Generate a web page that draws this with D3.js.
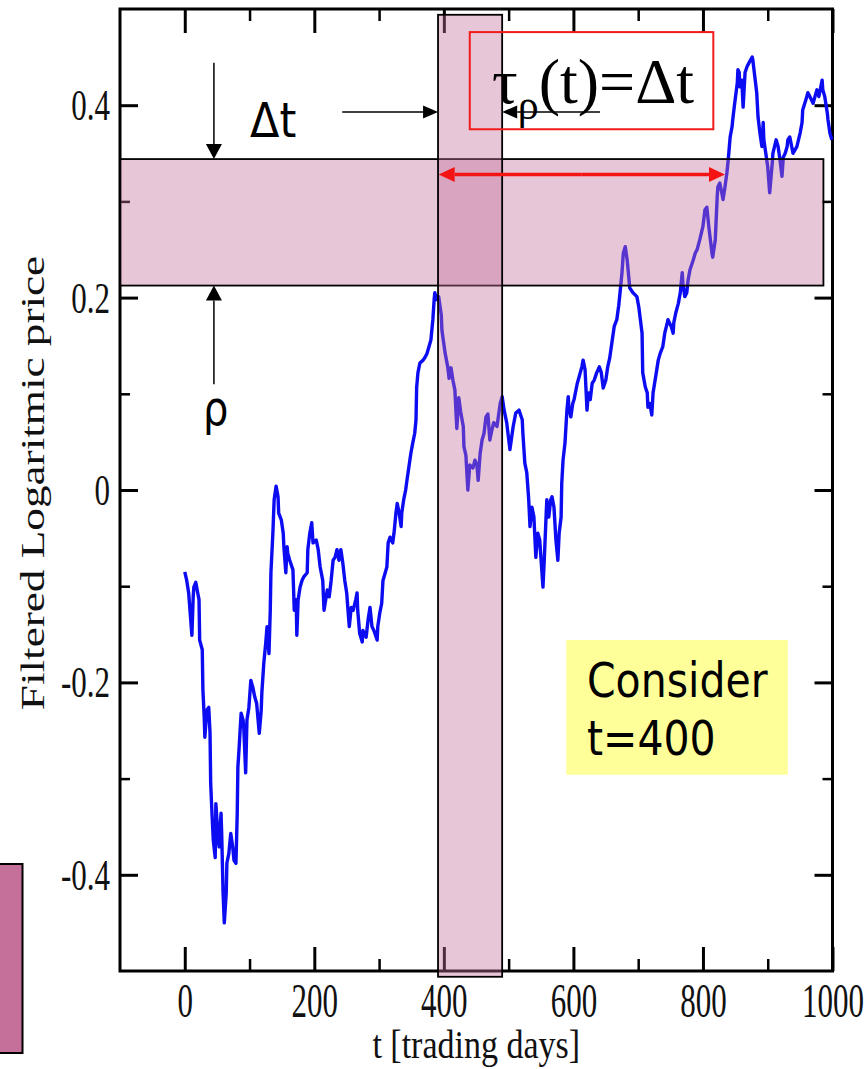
<!DOCTYPE html>
<html>
<head>
<meta charset="utf-8">
<script src="https://cdn.jsdelivr.net/npm/d3@7"></script>
<style>
  body { margin: 0; background: #fff; }
  svg { display: block; }
</style>
</head>
<body>
<svg id="chart" width="868" height="1069"></svg>
<script>
// ---- series: filtered logarithmic price vs trading day ----
const days = [0,3,6,11,13,14,17,20,22,23,27,28,30,31,34,37,39,40,42,44,47,48,51,53,56,57,59,61,64,65,68,71,74,76,79,81,82,84,87,90,91,94,96,99,102,105,108,111,115,118,119,122,125,127,130,132,133,136,138,141,144,145,149,152,153,156,158,159,162,167,169,172,173,175,178,181,184,189,190,193,196,198,203,206,209,213,215,220,223,226,229,232,235,238,241,244,247,250,252,254,257,260,264,266,267,270,274,275,280,283,286,289,292,297,298,301,304,306,312,314,317,321,323,326,328,331,334,335,338,341,343,346,349,352,355,357,358,360,363,368,371,374,377,380,383,385,386,389,392,396,397,402,406,408,411,414,417,420,423,426,430,431,434,437,440,445,448,451,453,456,459,462,465,468,471,474,477,482,487,490,493,497,502,507,511,516,521,522,525,528,531,533,536,539,542,545,548,553,555,558,559,562,565,567,570,573,576,578,581,582,584,587,590,592,593,596,599,601,606,609,613,615,618,621,623,626,629,632,636,640,643,646,650,653,656,660,663,667,670,672,675,677,680,683,684,687,692,698,701,706,707,711,714,715,718,721,723,728,731,734,738,741,745,746,751,754,755,758,762,765,768,769,772,775,777,780,785,788,791,795,800,803,806,809,814,815,819,822,823,826,829,831,834,837,839,842,845,846,849,853,854,856,857,860,862,865,868,871,876,877,880,883,885,888,891,893,894,897,900,903,907,908,913,916,919,922,924,927,930,931,934,937,939,945,950,953,954,959,962,965,970,973,976,979,984,985,988,992,993,996,999];

const filteredLogPrice = [-0.085,-0.094,-0.107,-0.151,-0.111,-0.101,-0.096,-0.107,-0.114,-0.156,-0.166,-0.208,-0.236,-0.257,-0.229,-0.226,-0.253,-0.305,-0.336,-0.364,-0.382,-0.326,-0.357,-0.371,-0.336,-0.357,-0.416,-0.450,-0.419,-0.388,-0.378,-0.357,-0.371,-0.385,-0.388,-0.336,-0.288,-0.267,-0.232,-0.239,-0.246,-0.294,-0.239,-0.226,-0.198,-0.205,-0.215,-0.222,-0.253,-0.229,-0.211,-0.180,-0.159,-0.142,-0.170,-0.125,-0.086,-0.045,-0.010,0.004,-0.007,-0.024,-0.031,-0.045,-0.059,-0.086,-0.059,-0.066,-0.073,-0.083,-0.125,-0.114,-0.151,-0.114,-0.101,-0.094,-0.090,-0.086,-0.062,-0.045,-0.034,-0.055,-0.052,-0.062,-0.080,-0.094,-0.125,-0.104,-0.111,-0.094,-0.073,-0.070,-0.062,-0.073,-0.062,-0.076,-0.094,-0.107,-0.125,-0.142,-0.122,-0.125,-0.114,-0.107,-0.125,-0.149,-0.158,-0.146,-0.153,-0.135,-0.122,-0.142,-0.146,-0.156,-0.142,-0.128,-0.118,-0.094,-0.080,-0.055,-0.049,-0.055,-0.045,-0.024,-0.014,-0.024,-0.038,-0.024,-0.010,0.000,0.010,0.024,0.038,0.049,0.059,0.073,0.107,0.122,0.132,0.135,0.138,0.142,0.149,0.156,0.177,0.198,0.205,0.198,0.201,0.182,0.166,0.142,0.128,0.116,0.127,0.114,0.104,0.064,0.096,0.081,0.066,0.045,0.036,0.000,0.026,0.023,0.031,0.026,0.010,0.038,0.052,0.059,0.076,0.079,0.052,0.062,0.070,0.066,0.090,0.097,0.083,0.070,0.042,0.066,0.080,0.083,0.073,0.059,0.028,0.018,-0.010,-0.038,-0.018,-0.028,-0.070,-0.045,-0.052,-0.101,-0.073,-0.024,-0.010,-0.028,-0.010,-0.007,-0.018,-0.052,-0.073,-0.045,-0.028,0.007,0.031,0.049,0.083,0.097,0.086,0.076,0.090,0.094,0.111,0.118,0.128,0.135,0.125,0.083,0.101,0.094,0.111,0.114,0.122,0.128,0.122,0.106,0.114,0.128,0.137,0.156,0.170,0.177,0.192,0.205,0.226,0.246,0.253,0.239,0.232,0.210,0.205,0.201,0.190,0.163,0.122,0.107,0.101,0.086,0.090,0.078,0.101,0.122,0.135,0.142,0.149,0.163,0.174,0.177,0.170,0.163,0.174,0.184,0.194,0.205,0.226,0.215,0.201,0.205,0.218,0.229,0.239,0.246,0.250,0.260,0.274,0.291,0.294,0.274,0.246,0.242,0.260,0.305,0.315,0.319,0.309,0.302,0.315,0.330,0.343,0.367,0.378,0.385,0.402,0.423,0.437,0.434,0.419,0.426,0.398,0.434,0.440,0.444,0.450,0.447,0.430,0.413,0.388,0.371,0.357,0.382,0.364,0.350,0.336,0.309,0.340,0.350,0.364,0.357,0.343,0.326,0.346,0.350,0.357,0.364,0.367,0.357,0.350,0.357,0.371,0.382,0.395,0.406,0.413,0.409,0.402,0.409,0.416,0.409,0.426,0.416,0.409,0.392,0.385,0.371,0.364];

// ---- axis ticks and labels ----
const xTicks = [0, 200, 400, 600, 800, 1000];
const xMinorTicks = [100, 300, 500, 700, 900];
const yTicks = [-0.4, -0.2, 0, 0.2, 0.4];
const yMinorTicks = [-0.3, -0.1, 0.1, 0.3];
const xTitle = "t [trading days]";
const yTitle = "Filtered Logaritmic price";

// ---- annotation regions (data units) ----
const windowBand = [391, 490, -0.506, 0.494];   // t0, t1, v0, v1
const levelBand = [-100, 986, 0.2125, 0.344];   // t0, t1, v0, v1
const tauArrow = [392, 834, 0.328];              // t0, t1, v
const deltaArrows = [[243, 391, 0.393], [641, 490, 0.393]];
const rhoArrows = [[45, 0.444, 0.344], [45, 0.110, 0.2125]];
const formulaBox = [440, 816, 0.375, 0.476];
const noteBox = [589, 931, -0.296, -0.156];
const noteLines = ["Consider", "t=400"];

const series = days.map((t, i) => ({ t, v: filteredLogPrice[i] }));

const svg = d3.select("#chart");
const x = d3.scaleLinear().domain([-100, 1000]).range([120, 832.5]);
const y = d3.scaleLinear().domain([-0.5, 0.5]).range([971, 9]);

const serif = "'Liberation Serif','Times New Roman',serif";
const sans = "'DejaVu Sans',Verdana,sans-serif";
const bandFill = "rgb(196,112,154)";

// ---- frame with inward ticks on all four sides ----
function ticksOnly(g, width) {
  g.select(".domain").remove();
  g.selectAll(".tick line").attr("stroke", "#000").attr("stroke-width", width);
}
const yBottom = y.range()[0], yTop = y.range()[1];
const xLeft = x.range()[0], xRight = x.range()[1];

svg.append("g").attr("transform", `translate(0,${yBottom})`)
  .call(d3.axisBottom(x).tickValues(xMinorTicks).tickSize(-12).tickFormat(""))
  .call(g => ticksOnly(g, 2.5));
svg.append("g").attr("transform", `translate(0,${yTop})`)
  .call(d3.axisTop(x).tickValues(xMinorTicks).tickSize(-12).tickFormat(""))
  .call(g => ticksOnly(g, 2.5));
svg.append("g").attr("transform", `translate(0,${yTop})`)
  .call(d3.axisTop(x).tickValues(xTicks).tickSize(-24).tickFormat(""))
  .call(g => ticksOnly(g, 3));
svg.append("g").attr("transform", `translate(${xLeft},0)`)
  .call(d3.axisLeft(y).tickValues(yMinorTicks).tickSize(-10).tickFormat(""))
  .call(g => ticksOnly(g, 2.5));
svg.append("g").attr("transform", `translate(${xRight},0)`)
  .call(d3.axisRight(y).tickValues(yMinorTicks).tickSize(-10).tickFormat(""))
  .call(g => ticksOnly(g, 2.5));
svg.append("g").attr("transform", `translate(${xRight},0)`)
  .call(d3.axisRight(y).tickValues(yTicks).tickSize(-18).tickFormat(""))
  .call(g => ticksOnly(g, 3));

// labelled axes
svg.append("g").attr("transform", `translate(0,${yBottom})`)
  .call(d3.axisBottom(x).tickValues(xTicks).tickSize(-24).tickFormat(d3.format("d")))
  .call(g => ticksOnly(g, 3))
  .attr("font-family", serif).attr("font-size", 31)
  .call(g => g.selectAll(".tick text")
    .attr("y", null).attr("dy", null).attr("fill", "#111")
    .attr("transform", "translate(0,45.5) scale(1,1.55)"));

svg.append("g").attr("transform", `translate(${xLeft},0)`)
  .call(d3.axisLeft(y).tickValues(yTicks).tickSize(-18).tickPadding(10)
    .tickFormat(d => d === 0 ? "0" : String(d)))
  .call(g => ticksOnly(g, 3))
  .attr("font-family", serif).attr("font-size", 31)
  .call(g => g.selectAll(".tick text")
    .attr("x", null).attr("dy", null).attr("fill", "#111")
    .attr("transform", "translate(-10,14.5) scale(1,1.4)"));

svg.append("rect")
  .attr("x", xLeft).attr("y", yTop)
  .attr("width", xRight - xLeft).attr("height", yBottom - yTop)
  .attr("fill", "none").attr("stroke", "#000").attr("stroke-width", 3);

// axis titles
svg.append("text")
  .attr("transform", `translate(${(xLeft + xRight) / 2},1058) scale(1,1.2)`)
  .attr("text-anchor", "middle").attr("font-family", serif).attr("font-size", 34)
  .attr("fill", "#111").text(xTitle);
svg.append("text")
  .attr("transform", `translate(44,${y(0) - 7}) rotate(-90) scale(1.37,1)`)
  .attr("text-anchor", "middle").attr("font-family", serif).attr("font-size", 33)
  .attr("fill", "#111").text(yTitle);

// ---- price line ----
svg.append("path")
  .datum(series)
  .attr("fill", "none")
  .attr("stroke", "#0c0cf2")
  .attr("stroke-width", 3.4)
  .attr("stroke-linejoin", "round")
  .attr("d", d3.line().x(d => x(d.t)).y(d => y(d.v)));

// ---- translucent bands: time window and price level ----
function band(b) {
  svg.append("rect")
    .attr("x", x(b[0])).attr("y", y(b[3]))
    .attr("width", x(b[1]) - x(b[0])).attr("height", y(b[2]) - y(b[3]))
    .attr("fill", bandFill).attr("fill-opacity", 0.4)
    .attr("stroke", "#000").attr("stroke-width", 1.8);
}
band(levelBand);
band(windowBand);

// ---- arrows ----
function arrow(x1, y1, x2, y2, color, width, len, half) {
  const a = Math.atan2(y2 - y1, x2 - x1);
  const bx = x2 - len * Math.cos(a), by = y2 - len * Math.sin(a);
  svg.append("line")
    .attr("x1", x1).attr("y1", y1).attr("x2", bx).attr("y2", by)
    .attr("stroke", color).attr("stroke-width", width);
  const px = -Math.sin(a) * half, py = Math.cos(a) * half;
  svg.append("path")
    .attr("d", `M${x2},${y2}L${bx + px},${by + py}L${bx - px},${by - py}Z`)
    .attr("fill", color);
}
deltaArrows.forEach(d => arrow(x(d[0]), y(d[2]), x(d[1]), y(d[2]), "#000", 1.5, 15, 6.5));
rhoArrows.forEach(d => arrow(x(d[0]), y(d[1]), x(d[0]), y(d[2]), "#000", 1.5, 15, 8));

// red double arrow: first passage time
{
  const xa = x(tauArrow[0]), xb = x(tauArrow[1]), ya = y(tauArrow[2]);
  const mid = (xa + xb) / 2;
  arrow(mid, ya, xa, ya, "#f41414", 3.5, 16, 7.5);
  arrow(mid, ya, xb, ya, "#f41414", 3.5, 16, 7.5);
}

// ---- formula box ----
svg.append("rect")
  .attr("x", x(formulaBox[0])).attr("y", y(formulaBox[3]))
  .attr("width", x(formulaBox[1]) - x(formulaBox[0]))
  .attr("height", y(formulaBox[2]) - y(formulaBox[3]))
  .attr("fill", "none").attr("stroke", "#f21b1b").attr("stroke-width", 2);

const formula = svg.append("text")
  .attr("x", 492).attr("y", 103)
  .style("font-family", "'Liberation Serif', serif")
  .attr("font-size", 64).attr("fill", "#000");
formula.append("tspan").style("font-family", "'Liberation Serif', serif").text("τ");
formula.append("tspan").style("font-family", "'Liberation Serif', serif")
  .attr("font-size", 42).attr("dy", 16).text("ρ");
formula.append("tspan").style("font-family", "'Liberation Serif', serif")
  .attr("dy", -16).text("(t)=Δt");

// ---- symbol labels ----
svg.append("text")
  .attr("transform", "translate(250,137) scale(1,1.1)")
  .attr("font-family", sans).attr("font-size", 43).attr("fill", "#000").text("Δt");
svg.append("text")
  .attr("transform", "translate(203,425) scale(1,1.2)")
  .attr("font-family", sans).attr("font-size", 40).attr("fill", "#000").text("ρ");

// ---- note box ----
svg.append("rect")
  .attr("x", x(noteBox[0])).attr("y", y(noteBox[3]))
  .attr("width", x(noteBox[1]) - x(noteBox[0]))
  .attr("height", y(noteBox[2]) - y(noteBox[3]))
  .attr("fill", "#ffff99");
noteLines.forEach((s, i) => {
  svg.append("text")
    .attr("transform", `translate(587,${697 + i * 58}) scale(1,1.17)`)
    .attr("font-family", sans).attr("font-size", 41).attr("fill", "#000").text(s);
});

// ---- swatch at lower left ----
svg.append("rect")
  .attr("x", -1).attr("y", 864).attr("width", 23.5).attr("height", 189)
  .attr("fill", bandFill).attr("stroke", "#000").attr("stroke-width", 2);
</script>
</body>
</html>
